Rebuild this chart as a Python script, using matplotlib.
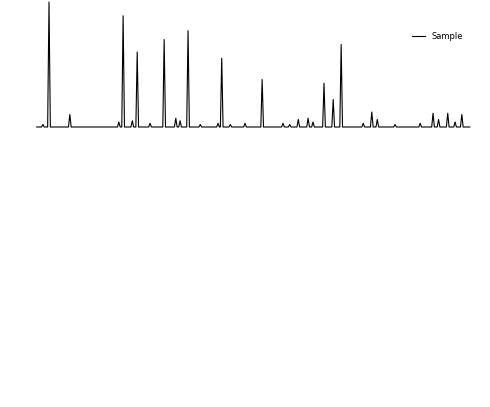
import matplotlib
matplotlib.use("Agg")
import matplotlib.pyplot as plt

# Peak positions (2-theta, degrees) and relative intensities
peak_pos = [13.0, 16.4, 25.1, 27.4, 31.8, 33.7, 35.7, 40.6, 41.2, 47.8,
            53.7, 55.3, 57.9, 59.4, 60.7, 65.7, 75.7, 78.1, 80.4]
peak_int = [100, 10, 89, 60, 70, 7, 77, 3, 55, 38,
            6, 7, 35, 22, 66, 12, 11, 11, 10]
# minor reflections near the baseline
minor_pos = [12.0, 24.4, 26.6, 29.5, 34.4, 37.7, 42.6, 45.0, 51.2, 52.3,
             56.1, 64.3, 66.6, 69.5, 73.6, 76.6, 79.3]
minor_int = [2, 4, 5, 3, 5, 2, 2, 3, 3, 2,
             4, 3, 6, 2, 3, 6, 4]
label = "Sample"

start_x, end_x = 11.0, 81.7
halfwidth = 0.22

pts = sorted(list(zip(peak_pos, peak_int)) + list(zip(minor_pos, minor_int)))
xs, ys = [start_x], [0.0]
for p, h in pts:
    xs += [p - halfwidth, p, p + halfwidth]
    ys += [0.0, h, 0.0]
xs.append(end_x); ys.append(0.0)

fig = plt.figure(figsize=(4.9, 4.07), dpi=100)
ax = fig.add_axes([0, 0, 1, 1])
ax.plot(xs, ys, color="black", lw=0.8, label=label)
ax.set_xlim(5, 85)
ax.set_ylim(-224, 101.6)
ax.axis("off")
ax.legend(loc="upper right", bbox_to_anchor=(0.96, 0.94), fontsize=6,
          frameon=False, handlelength=1.5)
fig.savefig("out.png", dpi=100, facecolor="white")
